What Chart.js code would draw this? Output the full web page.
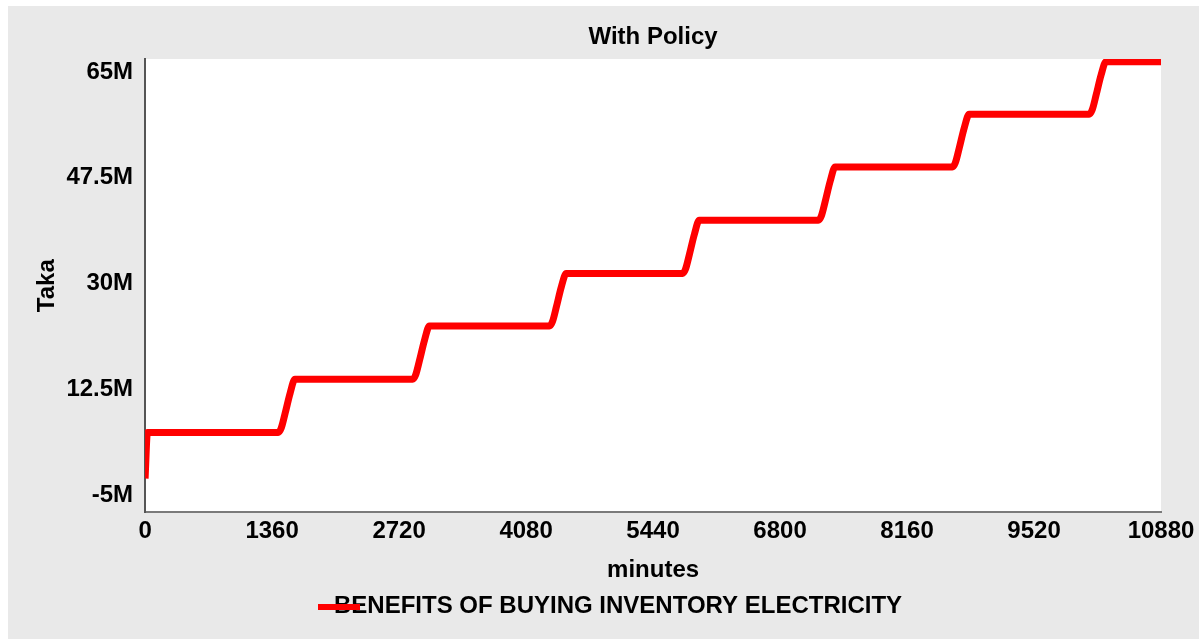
<!DOCTYPE html>
<html>
<head>
<meta charset="utf-8">
<script src="https://cdn.jsdelivr.net/npm/chart.js"></script>
<style>
  html, body { margin: 0; padding: 0; background: #fff; }
  #wrap { position: absolute; left: 8px; top: 6px; width: 1191px; height: 633px; background: #e9e9e9; }
</style>
</head>
<body>
<div id="wrap"><canvas id="chart" width="1191" height="633"></canvas></div>
<script>
// Benefits of buying inventory electricity (With Policy), values in millions of Taka
const minutes = [
  0, 25,
  1425, 1457, 1500, 1553, 1605,
  2865, 2897, 2940, 2993, 3045,
  4330, 4362, 4405, 4458, 4510,
  5755, 5787, 5830, 5883, 5935,
  7210, 7242, 7285, 7338, 7390,
  8645, 8677, 8720, 8773, 8825,
  10110, 10142, 10185, 10238, 10290,
  10880
];
const benefitsM = [
  -2.2, 5.4,
  5.4, 6.1, 8.6, 11.9, 14.2,
  14.2, 14.9, 17.4, 20.7, 23.0,
  23.0, 23.7, 26.2, 29.5, 31.7,
  31.7, 32.4, 34.9, 38.2, 40.5,
  40.5, 41.2, 43.7, 47.0, 49.3,
  49.3, 50.0, 52.5, 55.8, 58.0,
  58.0, 58.7, 61.2, 64.5, 66.7,
  66.7
];
const yTicks = [-5, 12.5, 30, 47.5, 65];
const xTicks = [0, 1360, 2720, 4080, 5440, 6800, 8160, 9520, 10880];
const seriesName = 'BENEFITS OF BUYING INVENTORY ELECTRICITY';

const FONT = { family: '"Liberation Sans", Arial, sans-serif', size: 24, weight: 'bold' };

const plotBg = {
  id: 'plotBg',
  beforeDraw(chart) {
    const a = chart.chartArea, ctx = chart.ctx;
    ctx.save();
    ctx.fillStyle = '#ffffff';
    ctx.fillRect(a.left, a.top, a.right - a.left, a.bottom - a.top);
    ctx.restore();
  }
};

// legend drawn by hand so it sits where the original one does
const bottomLegend = {
  id: 'bottomLegend',
  afterDraw(chart) {
    const ctx = chart.ctx, ds = chart.data.datasets[0];
    ctx.save();
    ctx.font = 'bold 24px "Liberation Sans", Arial, sans-serif';
    ctx.fillStyle = '#000';
    ctx.textBaseline = 'middle';
    ctx.fillText(ds.label, 326, 600);
    ctx.strokeStyle = ds.borderColor;
    ctx.lineWidth = 6;
    ctx.beginPath();
    ctx.moveTo(310, 601);
    ctx.lineTo(352, 601);
    ctx.stroke();
    ctx.restore();
  }
};

new Chart(document.getElementById('chart'), {
  type: 'line',
  data: {
    datasets: [{
      label: seriesName,
      data: minutes.map((m, i) => ({ x: m, y: benefitsM[i] })),
      borderColor: '#ff0000',
      borderWidth: 7,
      pointRadius: 0,
      cubicInterpolationMode: 'monotone',
      fill: false
    }]
  },
  options: {
    responsive: false,
    animation: false,
    layout: { padding: { left: -5, right: -1, top: 0, bottom: 49.6 } },
    plugins: {
      legend: { display: false },
      tooltip: { enabled: false },
      title: {
        display: true,
        text: 'With Policy',
        fullSize: false,
        color: '#000',
        font: FONT,
        padding: { top: 16.6, bottom: 7.6 }
      }
    },
    scales: {
      x: {
        type: 'linear',
        min: 0,
        max: 10880,
        afterBuildTicks: s => { s.ticks = xTicks.map(v => ({ value: v })); },
        ticks: { color: '#000', font: FONT, padding: 4.6, maxRotation: 0, autoSkip: false, callback: v => String(v) },
        grid: { display: false, drawTicks: false },
        border: { display: true, color: '#7a7a7a', width: 2 },
        title: { display: true, text: 'minutes', color: '#000', font: FONT, padding: { top: 5.2, bottom: 5 } }
      },
      y: {
        min: -7.81,
        max: 67.15,
        afterBuildTicks: s => { s.ticks = yTicks.map(v => ({ value: v })); },
        ticks: { color: '#000', font: FONT, padding: 12, callback: v => v + 'M' },
        grid: { display: false, drawTicks: false },
        border: { display: true, color: '#555555', width: 2 },
        title: { display: true, text: 'Taka', color: '#000', font: FONT, padding: { top: 29.6, bottom: -7 } }
      }
    }
  },
  plugins: [plotBg, bottomLegend]
});
</script>
</body>
</html>
